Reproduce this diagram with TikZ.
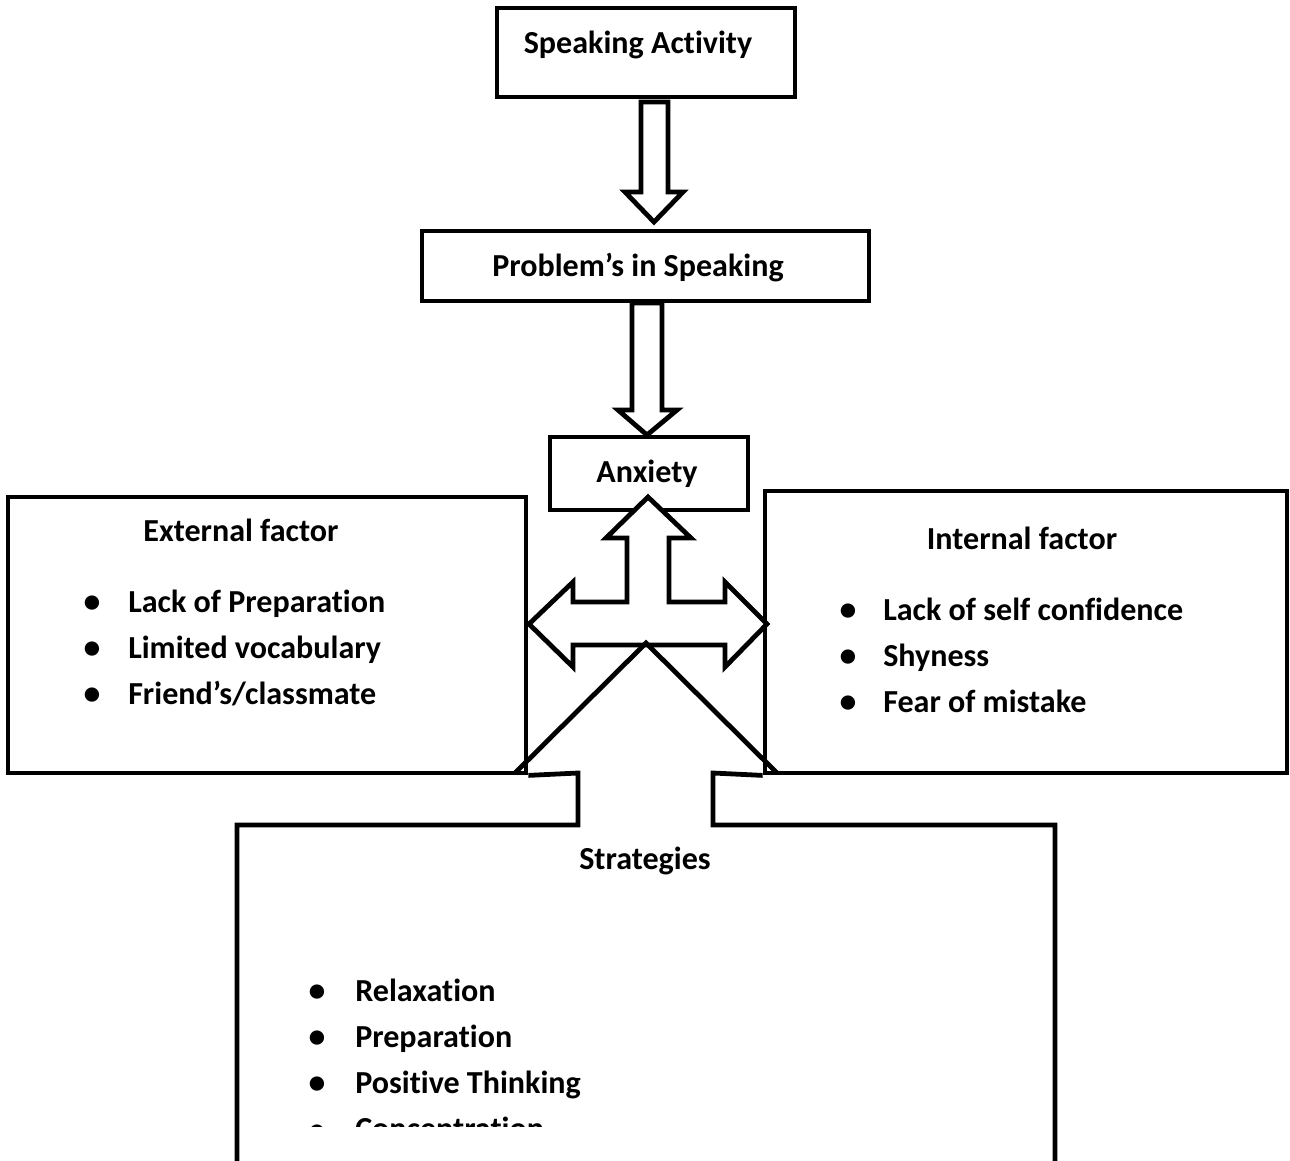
\documentclass[tikz,border=0pt]{standalone}
\usepackage{fontspec}
\setmainfont{Carlito}[Ligatures={NoCommon}]
\usetikzlibrary{fit}
\begin{document}
\begin{tikzpicture}[x=0.025cm, y=-0.025cm,
  ln/.style={line width=3.4pt, line join=miter},
  boxst/.style={draw, ln, rectangle, inner sep=0pt},
  txt/.style={font=\fontsize{22.8}{26}\selectfont\bfseries, inner sep=0pt},
  bul/.style={font=\fontsize{24}{26}\selectfont\bfseries, inner sep=0pt, anchor=base}]
\clip (0,0) rectangle (1290,1160);
\useasboundingbox (0,0) rectangle (1290,1160);

% boxes
\node[boxst, fit={(497,8) (795,97)}] (sa) {};
\node[boxst, fit={(422,231) (869,301)}] (pb) {};
\node[boxst, fit={(550,437) (748,510)}] (ax) {};
\node[boxst, fit={(8,497) (526,773)}] (ext) {};
\node[boxst, fit={(765,491) (1287,773)}] (int) {};

% titles
\node[txt, anchor=base] (satx) at (638,53) {Speaking Activity};
\node[txt, anchor=base] (pbtx) at (638,276) {Problem’s in Speaking};
\node[txt, anchor=base] (axtx) at (647,482) {Anxiety};
\node[txt, anchor=base] (extx) at (241,541) {External factor};
\node[txt, anchor=base] (intx) at (1022,549) {Internal factor};
\node[txt, anchor=base] (sttx) at (645,869) {Strategies};

% external list
\node[bul] (eb1) at (92,612) {•};
\node[bul] (eb2) at (92,658) {•};
\node[bul] (eb3) at (92,704) {•};
\node[txt, anchor=base west] (e1) at (128,612) {Lack of Preparation};
\node[txt, anchor=base west] (e2) at (128,658) {Limited vocabulary};
\node[txt, anchor=base west] (e3) at (128,704) {Friend’s/classmate};

% internal list
\node[bul] (ib1) at (848,620) {•};
\node[bul] (ib2) at (848,666) {•};
\node[bul] (ib3) at (848,712) {•};
\node[txt, anchor=base west] (i1) at (883,620) {Lack of self confidence};
\node[txt, anchor=base west] (i2) at (883,666) {Shyness};
\node[txt, anchor=base west] (i3) at (883,712) {Fear of mistake};

% strategies list
\node[bul] (sb1) at (317,1001) {•};
\node[bul] (sb2) at (317,1047) {•};
\node[bul] (sb3) at (317,1093) {•};
\node[txt, anchor=base west] (s1) at (355,1001) {Relaxation};
\node[txt, anchor=base west] (s2) at (355,1047) {Preparation};
\node[txt, anchor=base west] (s3) at (355,1093) {Positive Thinking};
\begin{scope}
\clip (0,1060) rectangle (1290,1126);
\node[bul] (sb4) at (317,1141) {•};
\node[txt, anchor=base west] (s4) at (355,1139) {Concentration};
\end{scope}

% block arrow 1
\draw[ln, fill=white] (641,102) -- (668,102) -- (668,192) -- (683,192) -- (654,222)
  -- (625,192) -- (641,192) -- cycle;
% block arrow 2
\draw[ln, fill=white] (632,303) -- (662,303) -- (662,410) -- (677,410) -- (647,435)
  -- (618,410) -- (632,410) -- cycle;
% cross arrow
\draw[ln, fill=white] (648,497) -- (691,538) -- (669,538) -- (669,602) -- (725,602)
  -- (725,582) -- (767,624) -- (725,667) -- (725,645) -- (573,645)
  -- (573,667) -- (529,624) -- (573,582) -- (573,602) -- (627,602)
  -- (627,538) -- (606,538) -- cycle;
\coordinate (apex) at (646,643);
\coordinate (legl) at (515,773);
\coordinate (legr) at (777,773);
\draw[ln] (legl) -- (apex) -- (legr);

% strategies outline
\draw[ln] (ext.south east) -- (578,773) -- (578,825) -- (237,825) -- (237,1175);
\draw[ln] (int.south west) -- (713,773) -- (713,825) -- (1055,825) -- (1055,1175);
\end{tikzpicture}
\end{document}
